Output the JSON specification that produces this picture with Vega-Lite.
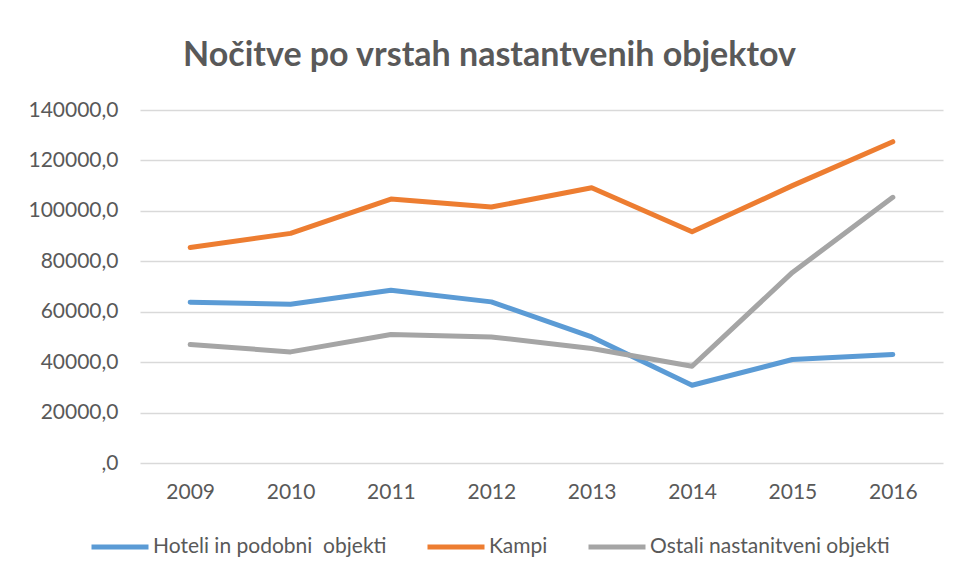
{
  "$schema": "https://vega.github.io/schema/vega-lite/v6.json",
  "width": 803,
  "height": 353,
  "autosize": {"type": "none"},
  "padding": {"left": 140, "top": 110, "right": 19, "bottom": 115},
  "background": "white",
  "title": {
    "text": "Nočitve po vrstah nastantvenih objektov",
    "font": "Lato",
    "fontSize": 34,
    "fontWeight": "bold",
    "color": "#595959",
    "anchor": "middle",
    "frame": "group",
    "dx": -52,
    "offset": 26
  },
  "data": {
    "values": [
      {"leto": "2009", "vrsta": "Hoteli in podobni  objekti", "nocitve": 63790},
      {"leto": "2010", "vrsta": "Hoteli in podobni  objekti", "nocitve": 62990},
      {"leto": "2011", "vrsta": "Hoteli in podobni  objekti", "nocitve": 68550},
      {"leto": "2012", "vrsta": "Hoteli in podobni  objekti", "nocitve": 63900},
      {"leto": "2013", "vrsta": "Hoteli in podobni  objekti", "nocitve": 50010},
      {"leto": "2014", "vrsta": "Hoteli in podobni  objekti", "nocitve": 30840},
      {"leto": "2015", "vrsta": "Hoteli in podobni  objekti", "nocitve": 41040},
      {"leto": "2016", "vrsta": "Hoteli in podobni  objekti", "nocitve": 43030},
      {"leto": "2009", "vrsta": "Kampi", "nocitve": 85500},
      {"leto": "2010", "vrsta": "Kampi", "nocitve": 91060},
      {"leto": "2011", "vrsta": "Kampi", "nocitve": 104670},
      {"leto": "2012", "vrsta": "Kampi", "nocitve": 101500},
      {"leto": "2013", "vrsta": "Kampi", "nocitve": 109160},
      {"leto": "2014", "vrsta": "Kampi", "nocitve": 91690},
      {"leto": "2015", "vrsta": "Kampi", "nocitve": 110000},
      {"leto": "2016", "vrsta": "Kampi", "nocitve": 127420},
      {"leto": "2009", "vrsta": "Ostali nastanitveni objekti", "nocitve": 47000},
      {"leto": "2010", "vrsta": "Ostali nastanitveni objekti", "nocitve": 44060},
      {"leto": "2011", "vrsta": "Ostali nastanitveni objekti", "nocitve": 50970},
      {"leto": "2012", "vrsta": "Ostali nastanitveni objekti", "nocitve": 50010},
      {"leto": "2013", "vrsta": "Ostali nastanitveni objekti", "nocitve": 45410},
      {"leto": "2014", "vrsta": "Ostali nastanitveni objekti", "nocitve": 38380},
      {"leto": "2015", "vrsta": "Ostali nastanitveni objekti", "nocitve": 75580},
      {"leto": "2016", "vrsta": "Ostali nastanitveni objekti", "nocitve": 105350}
    ]
  },
  "mark": {"type": "line", "strokeWidth": 5, "strokeCap": "round", "strokeJoin": "round"},
  "encoding": {
    "x": {
      "field": "leto",
      "type": "ordinal",
      "scale": {"type": "point", "padding": 0.5},
      "axis": {
        "title": null,
        "labelAngle": 0,
        "domain": false,
        "ticks": false,
        "labelPadding": 18,
        "labelFont": "Lato",
        "labelFontSize": 21,
        "labelColor": "#595959"
      }
    },
    "y": {
      "field": "nocitve",
      "type": "quantitative",
      "scale": {"domain": [0, 140000], "nice": false},
      "axis": {
        "title": null,
        "values": [0, 20000, 40000, 60000, 80000, 100000, 120000, 140000],
        "labelExpr": "datum.value == 0 ? ',0' : replace(format(datum.value, '.1f'), '.', ',')",
        "domain": false,
        "ticks": false,
        "labelPadding": 22,
        "labelFont": "Lato",
        "labelFontSize": 21,
        "labelColor": "#595959",
        "gridColor": "#d9d9d9",
        "gridWidth": 1.5
      }
    },
    "color": {
      "field": "vrsta",
      "type": "nominal",
      "scale": {
        "domain": ["Hoteli in podobni  objekti", "Kampi", "Ostali nastanitveni objekti"],
        "range": ["#5B9BD5", "#ED7D31", "#A5A5A5"]
      },
      "legend": {
        "title": null,
        "orient": "none",
        "direction": "horizontal",
        "legendX": -51,
        "legendY": 406,
        "symbolType": "stroke",
        "symbolSize": 3249,
        "symbolStrokeWidth": 5,
        "labelOffset": 2,
        "columnPadding": 30,
        "labelFont": "Lato",
        "labelFontSize": 21,
        "labelColor": "#595959",
        "labelLimit": 400,
        "labelExpr": "replace(datum.label, '  ', '\u00a0 ')"
      }
    }
  },
  "config": {"view": {"stroke": null}}
}
